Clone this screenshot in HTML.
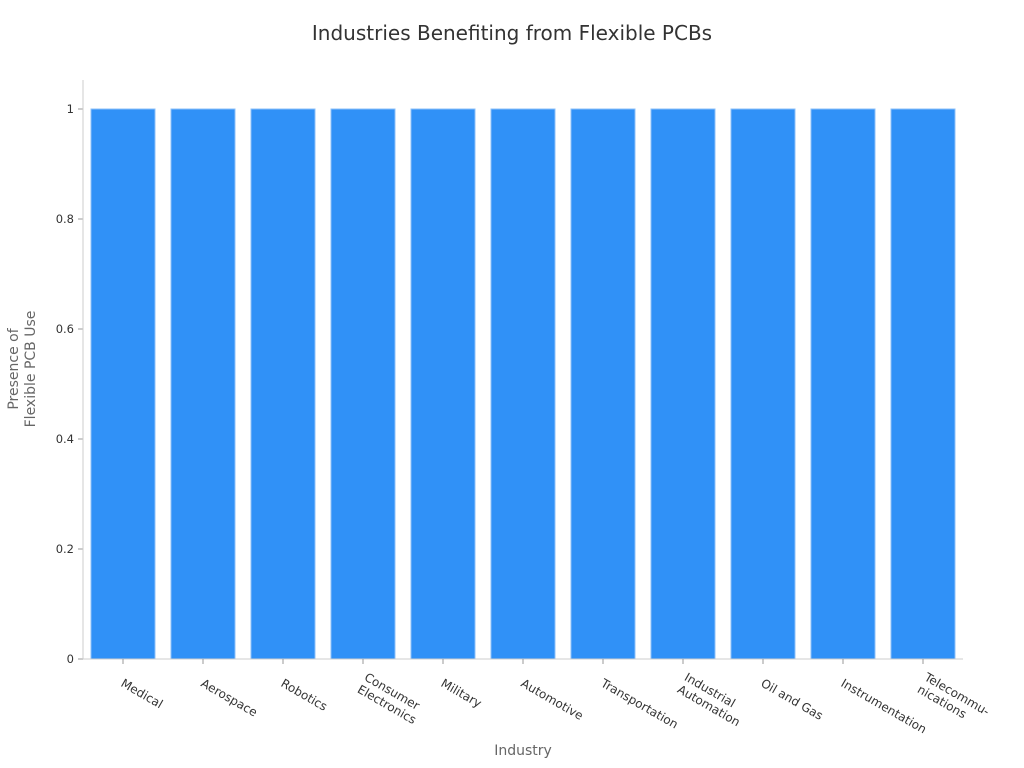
<!DOCTYPE html>
<html><head><meta charset="utf-8"><style>
html,body{margin:0;padding:0;background:#fff;}
svg{display:block;font-family:"DejaVu Sans","Liberation Sans",sans-serif;}
</style></head><body>
<svg id="chart" width="1024" height="768" viewBox="0 0 1024 768" xmlns="http://www.w3.org/2000/svg">
<text x="512" y="40" text-anchor="middle" font-size="20" fill="#333">Industries Benefiting from Flexible PCBs</text>
<text x="523" y="755" text-anchor="middle" font-size="14" fill="#666">Industry</text>
<text transform="translate(0,369) rotate(-90)" text-anchor="middle" font-size="14" fill="#666"><tspan x="0" y="18">Presence of</tspan><tspan x="0" y="35">Flexible PCB Use</tspan></text>
<g id="plot"></g>
</svg>
<script>
const categories=[["Medical"],["Aerospace"],["Robotics"],["Consumer","Electronics"],["Military"],["Automotive"],["Transportation"],["Industrial","Automation"],["Oil and Gas"],["Instrumentation"],["Telecommu-","nications"]];
const values=[1,1,1,1,1,1,1,1,1,1,1];
const yTicks=[0,0.2,0.4,0.6,0.8,1];
const yTickLabels=["0","0.2","0.4","0.6","0.8","1"];
const NS="http://www.w3.org/2000/svg";
const plot=document.getElementById('plot');
const L=83,R=963,T=80,B=659,Y1=109;
const band=(R-L)/categories.length;
function x(i){return L+band*i;}
function y(v){return B-(B-Y1)*v;}
function mk(t,a){const e=document.createElementNS(NS,t);for(const k in a)e.setAttribute(k,a[k]);plot.appendChild(e);return e;}
yTicks.forEach((v,i)=>{
  const tk=mk('line',{x1:L-5,x2:L,y1:y(v),y2:y(v),stroke:'#999'});
  
  
  const t=mk('text',{x:L-9,y:y(v)+4,'text-anchor':'end','font-size':11.5,fill:'#333'});
  
  
  t.textContent=yTickLabels[i];
});
values.forEach((v,i)=>{
  const r=mk('rect',{x:x(i)+8,y:y(v),width:band-16,height:B-y(v),fill:'#3091f7',stroke:'#8cc0fa','stroke-width':1});
  
  
});
const ax=mk('line',{x1:L,x2:L,y1:T,y2:B,stroke:'#ccc'});


const bx=mk('line',{x1:L,x2:R,y1:B,y2:B,stroke:'#ccc'});


categories.forEach((c,i)=>{
  const cx=x(i)+band/2;
  const tk=mk('line',{x1:cx,x2:cx,y1:B,y2:B+5,stroke:'#999'});
  
  
  const t=mk('text',{transform:'translate('+(cx+2)+','+(B+18)+') rotate(30)','font-size':12,fill:'#333'});
  
  
  c.forEach((line,j)=>{
    const s=document.createElementNS(NS,'tspan');
    s.setAttribute('x',0);
    s.setAttribute('y',(j-(c.length-1))*14+10 + (c.length>1?7:0));
    s.textContent=line;
    t.appendChild(s);
  });
});
</script>
</body></html>
